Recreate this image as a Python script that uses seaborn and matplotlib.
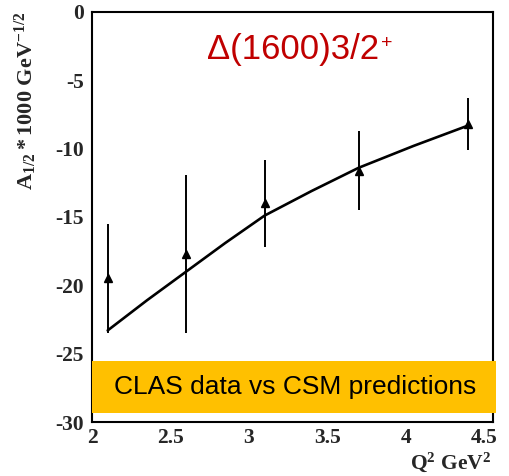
import numpy as np
import pandas as pd
import matplotlib
matplotlib.use("Agg")
import matplotlib.pyplot as plt
from matplotlib.patches import Rectangle
from matplotlib.ticker import MultipleLocator
import seaborn as sns

# CLAS measurements of A1/2 for Delta(1600)3/2+
q2_data = [2.10, 2.60, 3.10, 3.70, 4.40]
a12_data = [-19.5, -17.7, -14.0, -11.6, -8.2]
a12_err = [4.0, 5.8, 3.2, 2.9, 1.9]

# CSM prediction curve
q2_model = [2.10, 2.35, 2.60, 2.85, 3.10, 3.40, 3.70, 4.05, 4.40]
a12_model = [-23.3, -21.1, -19.0, -16.9, -14.9, -13.1, -11.4, -9.8, -8.3]

title_text = "Δ(1600)3/2"
title_parity = "+"
banner_text = "CLAS data vs CSM predictions"
x_ticks = [2, 2.5, 3, 3.5, 4, 4.5]
y_ticks = [0, -5, -10, -15, -20, -25, -30]

sns.set_style("white")
plt.rcParams["font.family"] = ["Liberation Serif", "DejaVu Serif"]
plt.rcParams["mathtext.fontset"] = "custom"
plt.rcParams["mathtext.rm"] = "Liberation Serif:bold"
plt.rcParams["mathtext.bf"] = "Liberation Serif:bold"
plt.rcParams["mathtext.it"] = "Liberation Serif:italic:bold"

fig = plt.figure(figsize=(5.10, 4.76), dpi=100)
ax = fig.add_axes([92 / 510, 1 - 422 / 476, 401 / 510, 410 / 476])

model_df = pd.DataFrame({"q2": q2_model, "a12": a12_model})
sns.lineplot(data=model_df, x="q2", y="a12", ax=ax, color="black",
             linewidth=1.9, zorder=3)

ax.errorbar(q2_data, a12_data, yerr=a12_err, fmt="^", color="black",
            markersize=6, elinewidth=1.4, capsize=0, zorder=4)

ax.set_xlim(2.0, 4.557)
ax.set_ylim(-30, 0)
ax.set_xticks(x_ticks)
ax.set_yticks(y_ticks)
ax.set_xticklabels(["2", "2.5", "3", "3.5", "4", "4.5"])
ax.set_yticklabels([str(v) for v in y_ticks])
ax.xaxis.set_minor_locator(MultipleLocator(0.1))
ax.yaxis.set_minor_locator(MultipleLocator(1))
ax.tick_params(axis="both", which="both", direction="in", top=False,
               right=False, width=1.4, color="black")
ax.tick_params(axis="y", which="major", length=8, labelsize=15.5, pad=6)
ax.tick_params(axis="y", which="minor", length=4)
ax.tick_params(axis="x", which="major", length=8, labelsize=15.5, pad=4)
ax.tick_params(axis="x", which="minor", length=4)
for lab in ax.get_xticklabels() + ax.get_yticklabels():
    lab.set_fontweight("bold")
for sp in ax.spines.values():
    sp.set_visible(True)
    sp.set_color("black")
    sp.set_linewidth(1.5)
ax.set_xlabel("")
ax.set_ylabel("")

fig.text(26 / 510, 1 - 12 / 476, r"$\mathrm{A_{1/2}*1000\ GeV^{-1/2}}$",
         rotation=90, ha="center", va="top", fontsize=16)
fig.text(491 / 510, 1 - 462 / 476, r"$\mathrm{Q^{2}\ GeV^{2}}$",
         ha="right", va="center", fontsize=15.5)

title = fig.text(207 / 510, 1 - 50 / 476, title_text, color="#C00000",
                 family=["Liberation Sans", "DejaVu Sans"], fontsize=25,
                 ha="left", va="center")
fig.text(0, 0, "", visible=False)
ax.annotate(title_parity, xy=(1.0, 1.0), xycoords=title,
            xytext=(1, -1), textcoords="offset points",
            color="#C00000", family=["Liberation Sans", "DejaVu Sans"],
            fontsize=14, ha="left", va="top", annotation_clip=False)

banner = Rectangle((92 / 510, 1 - 413 / 476), 404 / 510, 52 / 476,
                   transform=fig.transFigure, facecolor="#FFC000",
                   edgecolor="none", zorder=10)
fig.patches.append(banner)
fig.text(295 / 510, 1 - 387 / 476, banner_text, color="black",
         family=["Liberation Sans", "DejaVu Sans"], fontsize=19,
         ha="center", va="center", zorder=11)

fig.savefig("out.png", dpi=100)
